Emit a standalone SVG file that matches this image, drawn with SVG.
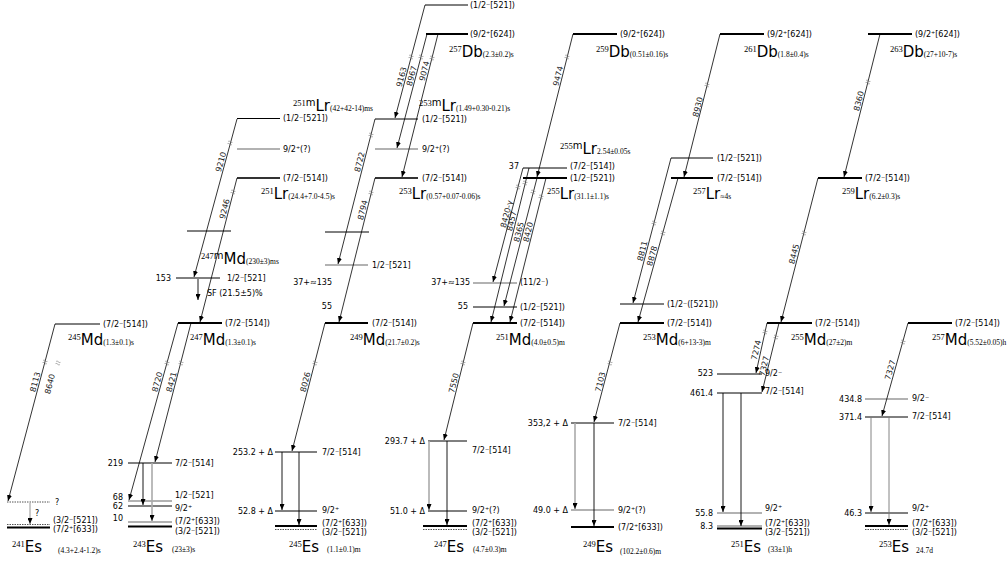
<svg xmlns="http://www.w3.org/2000/svg" width="1008" height="576" viewBox="0 0 1008 576">
<style>
.lv{stroke:#000;stroke-width:1}
.lvt{stroke:#000;stroke-width:2}
.lvg{stroke:#999;stroke-width:1.5}
.lvd{stroke:#555;stroke-width:1;stroke-dasharray:1.5 1}
.dl{stroke:#000;stroke-width:0.8;fill:none;marker-end:url(#ah)}
.ga{stroke:#000;stroke-width:0.9;marker-end:url(#ah)}
.gg{stroke:#aaa;stroke-width:1.6;marker-end:url(#ah)}
.bk{stroke:#777;stroke-width:0.6;fill:none}
text{fill:#000}
.t{font-family:"DejaVu Sans",Verdana,sans-serif;font-size:8px}
.ra{text-anchor:end}
.r{font-family:"DejaVu Sans",Verdana,sans-serif;font-size:8px;text-anchor:middle;fill:#222}
.sm{font-family:"Liberation Serif","Times New Roman",serif;font-size:8.5px}
.mm{font-family:"DejaVu Sans",Verdana,sans-serif;font-size:10px}
.el{font-family:"DejaVu Sans",Verdana,sans-serif;font-size:15px}
.hl{font-family:"Liberation Serif","Times New Roman",serif;font-size:7.5px}
</style>
<defs>
<marker id="ah" markerWidth="6" markerHeight="5" refX="6" refY="2.5" orient="auto" markerUnits="userSpaceOnUse"><path d="M0,0 L6,2.5 L0,5 Z" fill="#000"/></marker>
<path id="bm" class="bk" d="M-1.2,-2.2 q0.8,1.1 0,2.2 q-0.8,1.1 0,2.2 M1.2,-2.2 q0.8,1.1 0,2.2 q-0.8,1.1 0,2.2"/>
</defs>
<rect width="1008" height="576" fill="#fff"/>

<!-- ========== Column 1 ========== -->
<g id="n245Md">
<line class="lv" x1="55" y1="324" x2="100" y2="324"/>
<text class="t" x="103" y="327">(7/2⁻[514])</text>
<text x="68" y="345"><tspan class="sm" dy="-5">245</tspan><tspan class="el" dy="5">Md</tspan><tspan class="hl">(1.3±0.1)s</tspan></text>
</g>
<g id="n241Es">
<line class="lvd" x1="7" y1="502" x2="50" y2="502"/>
<text class="t" x="55" y="505">?</text>
<line class="lvd" x1="7" y1="524.5" x2="50" y2="524.5"/>
<line class="lvt" x1="7" y1="527.5" x2="50" y2="527.5"/>
<text class="t" x="53" y="523">(3/2⁻[521])</text>
<text class="t" x="53" y="532">(7/2⁺[633])</text>
<text class="t" x="35" y="516">?</text>
<text x="12" y="552"><tspan class="sm" dy="-5">241</tspan><tspan class="el" dy="5">Es</tspan></text>
<text class="hl" x="58" y="553">(4.3+2.4-1.2)s</text>
</g>

<!-- ========== Column 2 ========== -->
<g id="n251mLr">
<line class="lv" x1="237" y1="118.5" x2="280" y2="118.5"/>
<text class="t" x="283" y="121">(1/2⁻[521])</text>
<line class="lvg" x1="237" y1="149" x2="280" y2="149"/>
<text class="t" x="283" y="152">9/2⁺(?)</text>
<text x="293" y="111"><tspan class="sm" dy="-5">251</tspan><tspan class="mm">m</tspan><tspan class="el" dy="5">Lr</tspan><tspan class="hl">(42+42-14)ms</tspan></text>
</g>
<g id="n251Lr">
<line class="lvt" x1="237" y1="178" x2="280" y2="178" style="stroke:#333"/>
<text class="t" x="283" y="181">(7/2⁻[514])</text>
<text x="261" y="199"><tspan class="sm" dy="-5">251</tspan><tspan class="el" dy="5">Lr</tspan><tspan class="hl">(24.4+7.0-4.5)s</tspan></text>
</g>
<g id="n247mMd">
<line class="lv" x1="187" y1="231" x2="231" y2="231"/>
<line class="lv" x1="176" y1="278" x2="220" y2="278"/>
<text class="t ra" x="171" y="281">153</text>
<text class="t" x="227" y="281">1/2⁻[521]</text>
<text class="t" x="207" y="296">SF (21.5±5)%</text>
<text x="201" y="264"><tspan class="sm" dy="-5">247</tspan><tspan class="mm">m</tspan><tspan class="el" dy="5">Md</tspan><tspan class="hl">(230±3)ms</tspan></text>
</g>
<g id="n247Md">
<line class="lvt" x1="178" y1="323" x2="222" y2="323"/>
<text class="t" x="225" y="326">(7/2⁻[514])</text>
<text x="190" y="345"><tspan class="sm" dy="-5">247</tspan><tspan class="el" dy="5">Md</tspan><tspan class="hl">(1.3±0.1)s</tspan></text>
</g>
<g id="n243Es">
<line class="lv" x1="128" y1="463" x2="172" y2="463"/>
<text class="t ra" x="123" y="466">219</text>
<text class="t" x="175" y="466">7/2⁻[514]</text>
<line class="lvg" x1="128" y1="501" x2="172" y2="501"/>
<text class="t ra" x="123" y="500">68</text>
<text class="t" x="175" y="498">1/2⁻[521]</text>
<line class="lv" x1="128" y1="506" x2="172" y2="506"/>
<text class="t ra" x="123" y="509">62</text>
<text class="t" x="175" y="511">9/2⁺</text>
<line class="lvg" x1="128" y1="522" x2="172" y2="522"/>
<text class="t ra" x="123" y="521">10</text>
<text class="t" x="175" y="524">(7/2⁺[633])</text>
<line class="lvt" x1="128" y1="526.5" x2="172" y2="526.5"/>
<text class="t" x="175" y="534">(3/2⁻[521])</text>
<text x="133" y="552"><tspan class="sm" dy="-5">243</tspan><tspan class="el" dy="5">Es</tspan></text>
<text class="hl" x="172" y="552">(23±3)s</text>
</g>

<!-- ========== Column 3 ========== -->
<g id="n257Db">
<line class="lv" x1="425" y1="5" x2="468" y2="5"/>
<text class="t" x="470" y="8">(1/2⁻[521])</text>
<line class="lvt" x1="426" y1="34" x2="468" y2="34"/>
<text class="t" x="470" y="37">(9/2⁺[624])</text>
<text x="449" y="57"><tspan class="sm" dy="-5">257</tspan><tspan class="el" dy="5">Db</tspan><tspan class="hl">(2.3±0.2)s</tspan></text>
</g>
<g id="n253mLr">
<line class="lv" x1="375" y1="119" x2="418" y2="119"/>
<text class="t" x="422" y="122">(1/2⁻[521])</text>
<line class="lvg" x1="375" y1="149" x2="418" y2="149"/>
<text class="t" x="422" y="152">9/2⁺(?)</text>
<text x="419" y="111"><tspan class="sm" dy="-5">253</tspan><tspan class="mm">m</tspan><tspan class="el" dy="5">Lr</tspan><tspan class="hl">(1.49+0.30-0.21)s</tspan></text>
</g>
<g id="n253Lr">
<line class="lvt" x1="375" y1="178" x2="418" y2="178" style="stroke:#333"/>
<text class="t" x="422" y="181">(7/2⁻[514])</text>
<text x="399" y="199"><tspan class="sm" dy="-5">253</tspan><tspan class="el" dy="5">Lr</tspan><tspan class="hl">(0.57+0.07-0.06)s</tspan></text>
</g>
<g id="n249Md">
<line class="lv" x1="325" y1="232" x2="369" y2="232"/>
<line class="lvg" x1="325" y1="265" x2="368" y2="265"/>
<text class="t" x="372" y="268">1/2⁻[521]</text>
<text class="t ra" x="332" y="285">37+≈135</text>
<text class="t ra" x="332" y="309">55</text>
<line class="lvt" x1="325" y1="323" x2="368" y2="323"/>
<text class="t" x="372" y="326">(7/2⁻[514])</text>
<text x="350" y="345"><tspan class="sm" dy="-5">249</tspan><tspan class="el" dy="5">Md</tspan><tspan class="hl">(21.7±0.2)s</tspan></text>
</g>
<g id="n245Es">
<line class="lv" x1="275" y1="452" x2="317" y2="452"/>
<text class="t ra" x="273" y="455">253.2 + Δ</text>
<text class="t" x="322" y="455">7/2⁻[514]</text>
<line class="lv" x1="275" y1="511" x2="317" y2="511"/>
<text class="t ra" x="273" y="514">52.8 + Δ</text>
<text class="t" x="322" y="513">9/2⁺</text>
<line class="lvt" x1="275" y1="526" x2="317" y2="526"/>
<line class="lvd" x1="275" y1="529.5" x2="317" y2="529.5"/>
<text class="t" x="322" y="526">(7/2⁺[633])</text>
<text class="t" x="322" y="535">(3/2⁻[521])</text>
<text x="289" y="552"><tspan class="sm" dy="-5">245</tspan><tspan class="el" dy="5">Es</tspan></text>
<text class="hl" x="327" y="552">(1.1±0.1)m</text>
</g>

<!-- ========== Column 4 ========== -->
<g id="n259Db">
<line class="lvt" x1="573" y1="34" x2="617" y2="34"/>
<text class="t" x="620" y="37">(9/2⁺[624])</text>
<text x="596" y="57"><tspan class="sm" dy="-5">259</tspan><tspan class="el" dy="5">Db</tspan><tspan class="hl">(0.51±0.16)s</tspan></text>
</g>
<g id="n255mLr">
<line class="lv" x1="523" y1="168" x2="567" y2="168"/>
<text class="t ra" x="519" y="169">37</text>
<text class="t" x="570" y="169">(7/2⁻[514])</text>
<text x="560" y="154"><tspan class="sm" dy="-5">255</tspan><tspan class="mm">m</tspan><tspan class="el" dy="5">Lr</tspan><tspan class="hl">2.54±0.05s</tspan></text>
</g>
<g id="n255Lr">
<line class="lvt" x1="523" y1="178" x2="567" y2="178"/>
<text class="t" x="570" y="181">(1/2⁻[521])</text>
<text x="547" y="199"><tspan class="sm" dy="-5">255</tspan><tspan class="el" dy="5">Lr</tspan><tspan class="hl">(31.1±1.1)s</tspan></text>
</g>
<g id="n251Md">
<line class="lvg" x1="473" y1="283" x2="517" y2="283"/>
<text class="t ra" x="470" y="285">37+≈135</text>
<text class="t" x="520" y="285">(11/2⁻)</text>
<line class="lv" x1="473" y1="307" x2="517" y2="307"/>
<text class="t ra" x="468" y="309">55</text>
<text class="t" x="520" y="310">(1/2⁻[521])</text>
<line class="lvt" x1="473" y1="323" x2="517" y2="323"/>
<text class="t" x="520" y="326">(7/2⁻[514])</text>
<text x="496" y="345"><tspan class="sm" dy="-5">251</tspan><tspan class="el" dy="5">Md</tspan><tspan class="hl">(4.0±0.5)m</tspan></text>
</g>
<g id="n247Es">
<line class="lv" x1="428" y1="441" x2="467" y2="441"/>
<text class="t ra" x="425" y="444">293.7 + Δ</text>
<text class="t" x="472" y="453">7/2⁻[514]</text>
<line class="lv" x1="428" y1="511" x2="467" y2="511"/>
<text class="t ra" x="425" y="514">51.0 + Δ</text>
<text class="t" x="472" y="513">9/2⁺(?)</text>
<line class="lvt" x1="423" y1="526" x2="467" y2="526"/>
<line class="lvd" x1="423" y1="529.5" x2="467" y2="529.5"/>
<text class="t" x="472" y="526">(7/2⁺[633])</text>
<text class="t" x="472" y="535">(3/2⁻[521])</text>
<text x="434" y="552"><tspan class="sm" dy="-5">247</tspan><tspan class="el" dy="5">Es</tspan></text>
<text class="hl" x="473" y="552">(4.7±0.3)m</text>
</g>

<!-- ========== Column 5 ========== -->
<g id="n261Db">
<line class="lvt" x1="720" y1="34" x2="764" y2="34"/>
<text class="t" x="767" y="37">(9/2⁺[624])</text>
<text x="744" y="57"><tspan class="sm" dy="-5">261</tspan><tspan class="el" dy="5">Db</tspan><tspan class="hl">(1.8±0.4)s</tspan></text>
</g>
<g id="n257Lr">
<line class="lv" x1="671" y1="158" x2="713" y2="158"/>
<text class="t" x="717" y="161">(1/2⁻[521])</text>
<line class="lvt" x1="671" y1="178" x2="713" y2="178"/>
<text class="t" x="717" y="181">(7/2⁻[514])</text>
<text x="693" y="199"><tspan class="sm" dy="-5">257</tspan><tspan class="el" dy="5">Lr</tspan><tspan class="hl">≈4s</tspan></text>
</g>
<g id="n253Md">
<line class="lv" x1="620" y1="304" x2="664" y2="304"/>
<text class="t" x="667" y="307">(1/2⁻([521]))</text>
<line class="lvt" x1="620" y1="323" x2="664" y2="323"/>
<text class="t" x="667" y="326">(7/2⁻[514])</text>
<text x="643" y="345"><tspan class="sm" dy="-5">253</tspan><tspan class="el" dy="5">Md</tspan><tspan class="hl">(6+13-3)m</tspan></text>
</g>
<g id="n249Es">
<line class="lv" x1="571" y1="423" x2="614" y2="423"/>
<text class="t ra" x="568" y="426">353,2 + Δ</text>
<text class="t" x="618" y="426">7/2⁻[514]</text>
<line class="lvg" x1="571" y1="510" x2="614" y2="510"/>
<text class="t ra" x="568" y="513">49.0 + Δ</text>
<text class="t" x="618" y="513">9/2⁺(?)</text>
<line class="lvt" x1="571" y1="527" x2="614" y2="527"/>
<text class="t" x="618" y="530">(7/2⁺[633])</text>
<text x="583" y="552"><tspan class="sm" dy="-5">249</tspan><tspan class="el" dy="5">Es</tspan></text>
<text class="hl" x="620" y="554">(102.2±0.6)m</text>
</g>

<!-- ========== Column 6 ========== -->
<g id="n263Db">
<line class="lvt" x1="868" y1="34" x2="912" y2="34"/>
<text class="t" x="915" y="37">(9/2⁺[624])</text>
<text x="890" y="57"><tspan class="sm" dy="-5">263</tspan><tspan class="el" dy="5">Db</tspan><tspan class="hl">(27+10-7)s</tspan></text>
</g>
<g id="n259Lr">
<line class="lvt" x1="818" y1="178" x2="862" y2="178"/>
<text class="t" x="865" y="181">(7/2⁻[514])</text>
<text x="842" y="199"><tspan class="sm" dy="-5">259</tspan><tspan class="el" dy="5">Lr</tspan><tspan class="hl">(6.2±0.3)s</tspan></text>
</g>
<g id="n255Md">
<line class="lvt" x1="767" y1="323" x2="812" y2="323"/>
<text class="t" x="815" y="326">(7/2⁻[514])</text>
<text x="791" y="345"><tspan class="sm" dy="-5">255</tspan><tspan class="el" dy="5">Md</tspan><tspan class="hl">(27±2)m</tspan></text>
</g>
<g id="n251Es">
<line class="lv" x1="717" y1="374" x2="762" y2="374"/>
<text class="t ra" x="713" y="376">523</text>
<text class="t" x="765" y="376">9/2⁻</text>
<line class="lv" x1="717" y1="393" x2="762" y2="393"/>
<text class="t ra" x="713" y="396">461.4</text>
<text class="t" x="765" y="394">7/2⁻[514]</text>
<line class="lvg" x1="717" y1="513" x2="762" y2="513"/>
<text class="t ra" x="713" y="516">55.8</text>
<text class="t" x="765" y="511">9/2⁺</text>
<line class="lvg" x1="717" y1="526" x2="762" y2="526"/>
<line class="lvt" x1="717" y1="528.5" x2="762" y2="528.5"/>
<text class="t ra" x="713" y="529">8.3</text>
<text class="t" x="765" y="526">(7/2⁺[633])</text>
<text class="t" x="765" y="535">(3/2⁻[521])</text>
<text x="731" y="552"><tspan class="sm" dy="-5">251</tspan><tspan class="el" dy="5">Es</tspan></text>
<text class="hl" x="768" y="552">(33±1)h</text>
</g>

<!-- ========== Column 7 ========== -->
<g id="n257Md">
<line class="lvt" x1="908" y1="323" x2="952" y2="323"/>
<text class="t" x="955" y="326">(7/2⁻[514])</text>
<text x="932" y="345"><tspan class="sm" dy="-5">257</tspan><tspan class="el" dy="5">Md</tspan><tspan class="hl">(5.52±0.05)h</tspan></text>
</g>
<g id="n253Es">
<line class="lvg" x1="865" y1="399" x2="908" y2="399"/>
<text class="t ra" x="862" y="402">434.8</text>
<text class="t" x="912" y="401">9/2⁻</text>
<line class="lv" x1="865" y1="417" x2="908" y2="417"/>
<text class="t ra" x="862" y="420">371.4</text>
<text class="t" x="912" y="419">7/2⁻[514]</text>
<line class="lv" x1="865" y1="513" x2="908" y2="513"/>
<text class="t ra" x="862" y="516">46.3</text>
<text class="t" x="912" y="511">9/2⁺</text>
<line class="lvt" x1="865" y1="526" x2="908" y2="526"/>
<line class="lvd" x1="865" y1="529.5" x2="908" y2="529.5"/>
<text class="t" x="912" y="526">(7/2⁺[633])</text>
<text class="t" x="912" y="535">(3/2⁻[521])</text>
<text x="879" y="552"><tspan class="sm" dy="-5">253</tspan><tspan class="el" dy="5">Es</tspan></text>
<text class="hl" x="916" y="553">24.7d</text>
</g>

<!-- ========== Connectors ========== -->
<g id="connectors">
<path class="dl" d="M55,324 L8,501"/>
<path class="dl" d="M178,323 L129,500"/>
<path class="dl" d="M191,323 L155,462"/>
<path class="dl" d="M237,119 L194,277"/>
<path class="dl" d="M237,178 L200,322"/>
<path class="dl" d="M425,5 L395,118"/>
<path class="dl" d="M427,34 L397,148"/>
<path class="dl" d="M438,34 L402,177"/>
<path class="dl" d="M375,119 L338,264"/>
<path class="dl" d="M375,178 L339,322"/>
<path class="dl" d="M325,323 L292,451"/>
<path class="dl" d="M573,34 L537,177"/>
<path class="dl" d="M523,168 L493,282"/>
<path class="dl" d="M529,168 L491,322"/>
<path class="dl" d="M537,178 L504,306"/>
<path class="dl" d="M546,178 L510,322"/>
<path class="dl" d="M473,323 L444,440"/>
<path class="dl" d="M720,34 L684,177"/>
<path class="dl" d="M671,158 L633,303"/>
<path class="dl" d="M678,178 L638,322"/>
<path class="dl" d="M620,323 L594,422"/>
<path class="dl" d="M880,34 L844,177"/>
<path class="dl" d="M818,178 L781,322"/>
<path class="dl" d="M767,323 L756,373"/>
<path class="dl" d="M779,323 L762,392"/>
<path class="dl" d="M908,323 L882,416"/>

<line class="ga" x1="30" y1="503" x2="30" y2="524" style="stroke:#888"/>
<line class="ga" x1="143" y1="463" x2="143" y2="505"/>
<line class="gg" x1="152" y1="463" x2="152" y2="521"/>
<line class="ga" x1="198" y1="279" x2="198" y2="300"/>
<line class="ga" x1="282" y1="452" x2="282" y2="510"/>
<line class="ga" x1="299" y1="452" x2="299" y2="525"/>
<line class="gg" x1="429" y1="441" x2="429" y2="510"/>
<line class="ga" x1="447" y1="441" x2="447" y2="525"/>
<line class="gg" x1="575" y1="423" x2="575" y2="509"/>
<line class="ga" x1="594" y1="423" x2="594" y2="526"/>
<line class="ga" x1="723" y1="393" x2="723" y2="512"/>
<line class="ga" x1="741" y1="393" x2="741" y2="526"/>
<line class="ga" x1="871" y1="417" x2="871" y2="512" style="stroke:#777"/>
<line class="ga" x1="889" y1="417" x2="889" y2="525" style="stroke:#777"/>

<use href="#bm" transform="translate(45,362) rotate(-75)"/>
<use href="#bm" transform="translate(58,363) rotate(-75)"/>
<use href="#bm" transform="translate(167,363) rotate(-75)"/>
<use href="#bm" transform="translate(181,363) rotate(-75)"/>
<use href="#bm" transform="translate(230,143) rotate(-75)"/>
<use href="#bm" transform="translate(233,192) rotate(-75)"/>
<use href="#bm" transform="translate(411,57) rotate(-75)"/>
<use href="#bm" transform="translate(421,57) rotate(-75)"/>
<use href="#bm" transform="translate(432,58) rotate(-75)"/>
<use href="#bm" transform="translate(371,135) rotate(-75)"/>
<use href="#bm" transform="translate(371,193) rotate(-75)"/>
<use href="#bm" transform="translate(315,363) rotate(-75)"/>
<use href="#bm" transform="translate(567,57) rotate(-75)"/>
<use href="#bm" transform="translate(518,187) rotate(-75)"/>
<use href="#bm" transform="translate(525,183) rotate(-75)"/>
<use href="#bm" transform="translate(533,192) rotate(-75)"/>
<use href="#bm" transform="translate(541,197) rotate(-75)"/>
<use href="#bm" transform="translate(463,363) rotate(-75)"/>
<use href="#bm" transform="translate(707,85) rotate(-75)"/>
<use href="#bm" transform="translate(654,223) rotate(-75)"/>
<use href="#bm" transform="translate(663,233) rotate(-75)"/>
<use href="#bm" transform="translate(610,363) rotate(-75)"/>
<use href="#bm" transform="translate(868,82) rotate(-75)"/>
<use href="#bm" transform="translate(804,233) rotate(-75)"/>
<use href="#bm" transform="translate(765,332) rotate(-76)"/>
<use href="#bm" transform="translate(776,337) rotate(-76)"/>
<use href="#bm" transform="translate(903,342) rotate(-74)"/>

<text class="r" transform="translate(39.3,383) rotate(-75.1)" y="-1.5">8113</text>
<text class="r" transform="translate(54,385) rotate(-75)" y="-1.5">8640</text>
<text class="r" transform="translate(161.4,383) rotate(-74.5)" y="-1.5">8720</text>
<text class="r" transform="translate(175.6,383) rotate(-75.6)" y="-1.5">8421</text>
<text class="r" transform="translate(225,163) rotate(-74.6)" y="-1.5">9210</text>
<text class="r" transform="translate(228.8,210) rotate(-75.6)" y="-1.5">9246</text>
<text class="r" transform="translate(405.6,78) rotate(-75.1)" y="-1.5">9163</text>
<text class="r" transform="translate(415.8,77) rotate(-75.4)" y="-1.5">8967</text>
<text class="r" transform="translate(428.5,72) rotate(-76)" y="-1.5">9074</text>
<text class="r" transform="translate(363.7,163) rotate(-75.6)" y="-1.5">8722</text>
<text class="r" transform="translate(366.8,211) rotate(-76)" y="-1.5">8794</text>
<text class="r" transform="translate(309.5,383) rotate(-75.5)" y="-1.5">8026</text>
<text class="r" transform="translate(562.2,77) rotate(-75.9)" y="-1.5">9474</text>
<text class="r" transform="translate(510.7,215) rotate(-75.4)" y="-1.5">8420-γ</text>
<text class="r" transform="translate(515.8,222) rotate(-76.2)" y="-1.5">8457</text>
<text class="r" transform="translate(523,233) rotate(-75.6)" y="-1.5">8365</text>
<text class="r" transform="translate(532.3,233) rotate(-76)" y="-1.5">8420</text>
<text class="r" transform="translate(458,384) rotate(-76.2)" y="-1.5">7550</text>
<text class="r" transform="translate(702,108) rotate(-76)" y="-1.5">8930</text>
<text class="r" transform="translate(646.5,252) rotate(-75.4)" y="-1.5">8811</text>
<text class="r" transform="translate(656.2,257) rotate(-74.6)" y="-1.5">8878</text>
<text class="r" transform="translate(604.4,383) rotate(-75.4)" y="-1.5">7103</text>
<text class="r" transform="translate(863,102) rotate(-76)" y="-1.5">8360</text>
<text class="r" transform="translate(798.2,255) rotate(-75.6)" y="-1.5">8445</text>
<text class="r" transform="translate(760.4,351) rotate(-76.8)" y="-1.5">7274</text>
<text class="r" transform="translate(768.3,367) rotate(-76.3)" y="-1.5">7327</text>
<text class="r" transform="translate(894.3,371) rotate(-74.2)" y="-1.5">7327</text>
</g>
</svg>
